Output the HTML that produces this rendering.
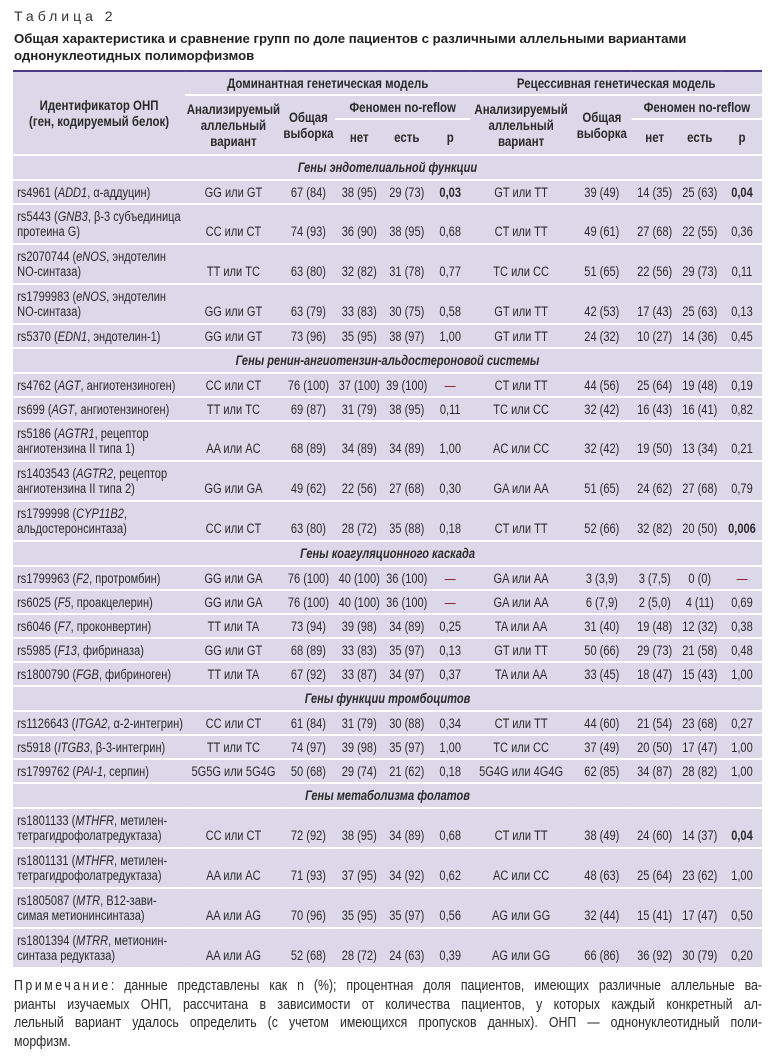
<!DOCTYPE html>
<html><head><meta charset="utf-8"><style>
*{margin:0;padding:0;box-sizing:border-box}
body{width:772px;height:1058px;background:#fff;font-family:"Liberation Sans",sans-serif;color:#2a2a2a;position:relative;overflow:hidden}
.t1{position:absolute;left:14px;top:8px;font-size:14px;letter-spacing:4px;color:#333}
.t2{position:absolute;left:14px;top:30px;font-size:13.2px;font-weight:bold;line-height:17px;color:#222}
table{position:absolute;left:13px;top:70px;width:914px;transform:scaleX(0.8195);transform-origin:0 0;border-collapse:collapse;table-layout:fixed;font-size:13.5px;background:#dcd8ea;border-top:2px solid #4b3a84;border-bottom:2px solid #4b3a84}
td,th{padding:0 2px;text-align:center;vertical-align:bottom;border-bottom:2px solid #fff;line-height:15px;padding-bottom:4px;white-space:nowrap;overflow:hidden}
th{font-weight:bold;vertical-align:middle;padding-bottom:0;color:#2a2a2a;line-height:16px;font-size:14px}
td.l{text-align:left;padding-left:5px}
tr.s td{height:25px;font-style:italic;font-weight:bold;text-align:center;vertical-align:middle;padding-bottom:0}
tr.a td{height:24px;vertical-align:middle;padding-bottom:0}
tr.d td{height:40px}
.r{color:#8a1a1a}
.note{position:absolute;left:14px;top:977px;width:880px;transform:scaleX(0.85);transform-origin:0 0;font-size:14.5px;line-height:18.5px;color:#2a2a2a}
.note div{text-align:justify;text-align-last:justify;white-space:nowrap}
.note div.e{text-align-last:left}
</style></head><body>
<div class="t1">Таблица 2</div>
<div class="t2">Общая характеристика и сравнение групп по доле пациентов с различными аллельными вариантами<br>однонуклеотидных полиморфизмов</div>
<table>
<colgroup><col style="width:210px"><col style="width:118px"><col style="width:65px"><col style="width:59px"><col style="width:57px"><col style="width:49px"><col style="width:124px"><col style="width:73px"><col style="width:56px"><col style="width:54px"><col style="width:49px"></colgroup>
<tr><th rowspan="3" style="height:84px">Идентификатор ОНП<br>(ген, кодируемый белок)</th><th colspan="5" style="height:24px">Доминантная генетическая модель</th><th colspan="5">Рецессивная генетическая модель</th></tr>
<tr><th rowspan="2">Анализируемый<br>аллельный<br>вариант</th><th rowspan="2">Общая<br>выборка</th><th colspan="3" style="height:24px">Феномен no-reflow</th><th rowspan="2">Анализируемый<br>аллельный<br>вариант</th><th rowspan="2">Общая<br>выборка</th><th colspan="3">Феномен no-reflow</th></tr>
<tr><th style="height:36px">нет</th><th>есть</th><th>p</th><th>нет</th><th>есть</th><th>p</th></tr>
<tr class="s"><td colspan="11">Гены эндотелиальной функции</td></tr>
<tr class="a"><td class="l">rs4961 (<i>ADD1</i>, α-аддуцин)</td><td>GG или GT</td><td>67 (84)</td><td>38 (95)</td><td>29 (73)</td><td><b>0,03</b></td><td>GT или TT</td><td>39 (49)</td><td>14 (35)</td><td>25 (63)</td><td><b>0,04</b></td></tr>
<tr class="d"><td class="l">rs5443 (<i>GNB3</i>, β-3 субъединица<br>протеина G)</td><td>CC или CT</td><td>74 (93)</td><td>36 (90)</td><td>38 (95)</td><td>0,68</td><td>CT или TT</td><td>49 (61)</td><td>27 (68)</td><td>22 (55)</td><td>0,36</td></tr>
<tr class="d"><td class="l">rs2070744 (<i>eNOS</i>, эндотелин<br>NO-синтаза)</td><td>TT или TC</td><td>63 (80)</td><td>32 (82)</td><td>31 (78)</td><td>0,77</td><td>TC или CC</td><td>51 (65)</td><td>22 (56)</td><td>29 (73)</td><td>0,11</td></tr>
<tr class="d"><td class="l">rs1799983 (<i>eNOS</i>, эндотелин<br>NO-синтаза)</td><td>GG или GT</td><td>63 (79)</td><td>33 (83)</td><td>30 (75)</td><td>0,58</td><td>GT или TT</td><td>42 (53)</td><td>17 (43)</td><td>25 (63)</td><td>0,13</td></tr>
<tr class="a"><td class="l">rs5370 (<i>EDN1</i>, эндотелин-1)</td><td>GG или GT</td><td>73 (96)</td><td>35 (95)</td><td>38 (97)</td><td>1,00</td><td>GT или TT</td><td>24 (32)</td><td>10 (27)</td><td>14 (36)</td><td>0,45</td></tr>
<tr class="s"><td colspan="11">Гены ренин-ангиотензин-альдостероновой системы</td></tr>
<tr class="a"><td class="l">rs4762 (<i>AGT</i>, ангиотензиноген)</td><td>CC или CT</td><td>76 (100)</td><td>37 (100)</td><td>39 (100)</td><td class="r">—</td><td>CT или TT</td><td>44 (56)</td><td>25 (64)</td><td>19 (48)</td><td>0,19</td></tr>
<tr class="a"><td class="l">rs699 (<i>AGT</i>, ангиотензиноген)</td><td>TT или TC</td><td>69 (87)</td><td>31 (79)</td><td>38 (95)</td><td>0,11</td><td>TC или CC</td><td>32 (42)</td><td>16 (43)</td><td>16 (41)</td><td>0,82</td></tr>
<tr class="d"><td class="l">rs5186 (<i>AGTR1</i>, рецептор<br>ангиотензина II типа 1)</td><td>AA или AC</td><td>68 (89)</td><td>34 (89)</td><td>34 (89)</td><td>1,00</td><td>AC или CC</td><td>32 (42)</td><td>19 (50)</td><td>13 (34)</td><td>0,21</td></tr>
<tr class="d"><td class="l">rs1403543 (<i>AGTR2</i>, рецептор<br>ангиотензина II типа 2)</td><td>GG или GA</td><td>49 (62)</td><td>22 (56)</td><td>27 (68)</td><td>0,30</td><td>GA или AA</td><td>51 (65)</td><td>24 (62)</td><td>27 (68)</td><td>0,79</td></tr>
<tr class="d"><td class="l">rs1799998 (<i>CYP11B2</i>,<br>альдостеронсинтаза)</td><td>CC или CT</td><td>63 (80)</td><td>28 (72)</td><td>35 (88)</td><td>0,18</td><td>CT или TT</td><td>52 (66)</td><td>32 (82)</td><td>20 (50)</td><td><b>0,006</b></td></tr>
<tr class="s"><td colspan="11">Гены коагуляционного каскада</td></tr>
<tr class="a"><td class="l">rs1799963 (<i>F2</i>, протромбин)</td><td>GG или GA</td><td>76 (100)</td><td>40 (100)</td><td>36 (100)</td><td class="r">—</td><td>GA или AA</td><td>3 (3,9)</td><td>3 (7,5)</td><td>0 (0)</td><td class="r">—</td></tr>
<tr class="a"><td class="l">rs6025 (<i>F5</i>, проакцелерин)</td><td>GG или GA</td><td>76 (100)</td><td>40 (100)</td><td>36 (100)</td><td class="r">—</td><td>GA или AA</td><td>6 (7,9)</td><td>2 (5,0)</td><td>4 (11)</td><td>0,69</td></tr>
<tr class="a"><td class="l">rs6046 (<i>F7</i>, проконвертин)</td><td>TT или TA</td><td>73 (94)</td><td>39 (98)</td><td>34 (89)</td><td>0,25</td><td>TA или AA</td><td>31 (40)</td><td>19 (48)</td><td>12 (32)</td><td>0,38</td></tr>
<tr class="a"><td class="l">rs5985 (<i>F13</i>, фибриназа)</td><td>GG или GT</td><td>68 (89)</td><td>33 (83)</td><td>35 (97)</td><td>0,13</td><td>GT или TT</td><td>50 (66)</td><td>29 (73)</td><td>21 (58)</td><td>0,48</td></tr>
<tr class="a"><td class="l">rs1800790 (<i>FGB</i>, фибриноген)</td><td>TT или TA</td><td>67 (92)</td><td>33 (87)</td><td>34 (97)</td><td>0,37</td><td>TA или AA</td><td>33 (45)</td><td>18 (47)</td><td>15 (43)</td><td>1,00</td></tr>
<tr class="s"><td colspan="11">Гены функции тромбоцитов</td></tr>
<tr class="a"><td class="l">rs1126643 (<i>ITGA2</i>, α-2-интегрин)</td><td>CC или CT</td><td>61 (84)</td><td>31 (79)</td><td>30 (88)</td><td>0,34</td><td>CT или TT</td><td>44 (60)</td><td>21 (54)</td><td>23 (68)</td><td>0,27</td></tr>
<tr class="a"><td class="l">rs5918 (<i>ITGB3</i>, β-3-интегрин)</td><td>TT или TC</td><td>74 (97)</td><td>39 (98)</td><td>35 (97)</td><td>1,00</td><td>TC или CC</td><td>37 (49)</td><td>20 (50)</td><td>17 (47)</td><td>1,00</td></tr>
<tr class="a"><td class="l">rs1799762 (<i>PAI-1</i>, серпин)</td><td>5G5G или 5G4G</td><td>50 (68)</td><td>29 (74)</td><td>21 (62)</td><td>0,18</td><td>5G4G или 4G4G</td><td>62 (85)</td><td>34 (87)</td><td>28 (82)</td><td>1,00</td></tr>
<tr class="s"><td colspan="11">Гены метаболизма фолатов</td></tr>
<tr class="d"><td class="l">rs1801133 (<i>MTHFR</i>, метилен-<br>тетрагидрофолатредуктаза)</td><td>CC или CT</td><td>72 (92)</td><td>38 (95)</td><td>34 (89)</td><td>0,68</td><td>CT или TT</td><td>38 (49)</td><td>24 (60)</td><td>14 (37)</td><td><b>0,04</b></td></tr>
<tr class="d"><td class="l">rs1801131 (<i>MTHFR</i>, метилен-<br>тетрагидрофолатредуктаза)</td><td>AA или AC</td><td>71 (93)</td><td>37 (95)</td><td>34 (92)</td><td>0,62</td><td>AC или CC</td><td>48 (63)</td><td>25 (64)</td><td>23 (62)</td><td>1,00</td></tr>
<tr class="d"><td class="l">rs1805087 (<i>MTR</i>, B12-зави-<br>симая метионинсинтаза)</td><td>AA или AG</td><td>70 (96)</td><td>35 (95)</td><td>35 (97)</td><td>0,56</td><td>AG или GG</td><td>32 (44)</td><td>15 (41)</td><td>17 (47)</td><td>0,50</td></tr>
<tr class="d"><td class="l">rs1801394 (<i>MTRR</i>, метионин-<br>синтаза редуктаза)</td><td>AA или AG</td><td>52 (68)</td><td>28 (72)</td><td>24 (63)</td><td>0,39</td><td>AG или GG</td><td>66 (86)</td><td>36 (92)</td><td>30 (79)</td><td>0,20</td></tr>
</table>
<div class="note">
<div><span style="letter-spacing:3px">Примечание</span>: данные представлены как n (%); процентная доля пациентов, имеющих различные аллельные ва-</div>
<div>рианты изучаемых ОНП, рассчитана в зависимости от количества пациентов, у которых каждый конкретный ал-</div>
<div>лельный вариант удалось определить (с учетом имеющихся пропусков данных). ОНП — однонуклеотидный поли-</div>
<div class="e">морфизм.</div>
</div>
</body></html>
